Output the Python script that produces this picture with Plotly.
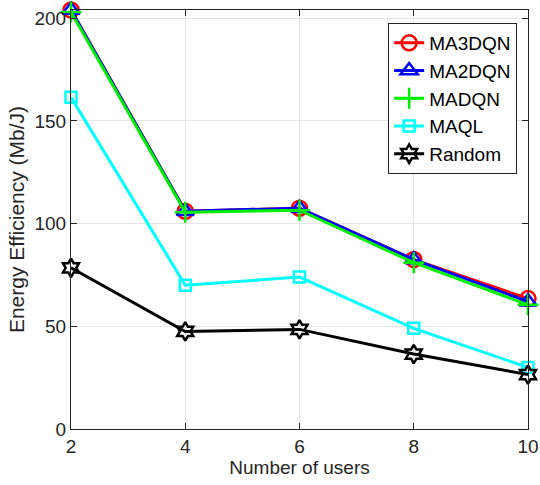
import plotly.graph_objects as go

users = [2, 4, 6, 8, 10]
ma3dqn = [204, 106, 107.5, 82.5, 63.5]
ma2dqn = [204, 106, 107.5, 82.5, 62]
madqn = [203, 105.5, 106.5, 81, 60.5]
maql = [161.5, 70, 74, 49, 30]
random_ = [78.5, 47.5, 48.5, 36.5, 26.5]

series = [
    ("MA3DQN", ma3dqn, "#ff0000", "circle-open", 15),
    ("MA2DQN", ma2dqn, "#0000ff", "triangle-up-open", 15),
    ("MADQN", madqn, "#00ee00", "cross-thin-open", 15),
    ("MAQL", maql, "#00ffff", "square-open", 11),
    ("Random", random_, "#000000", "hexagram-open", 14),
]

FONT = "Liberation Sans, Arial, sans-serif"
fig = go.Figure()
for name, vals, col, sym, sz in series:
    fig.add_trace(go.Scatter(
        x=users, y=vals, name=name, mode="lines+markers",
        line=dict(color=col, width=3),
        marker=dict(symbol=sym, size=sz, color=col, line=dict(color=col, width=2.5)),
        cliponaxis=False,
    ))

axis_common = dict(
    showline=True, linecolor="#262626", linewidth=1, mirror="ticks",
    ticks="inside", ticklen=6, tickcolor="#262626",
    showgrid=True, gridcolor="#e6e6e6", gridwidth=1, zeroline=False,
    tickfont=dict(family=FONT, size=19, color="#262626"),
    automargin=False,
)
fig.update_xaxes(range=[2, 10], tickvals=[2, 4, 6, 8, 10],
                 title=dict(text="Number of users", font=dict(family=FONT, size=19, color="#262626"), standoff=0),
                 **axis_common)
fig.update_yaxes(range=[0, 204], tickvals=[0, 50, 100, 150, 200],
                 title=dict(text="Energy Efficiency (Mb/J)", font=dict(family=FONT, size=21, color="#262626"), standoff=4),
                 **axis_common)
fig.update_layout(
    width=540, height=485,
    margin=dict(l=71, r=12, t=10, b=56),
    plot_bgcolor="white", paper_bgcolor="white",
    showlegend=True,
    legend=dict(x=0.694, y=0.969, xanchor="left", yanchor="top",
                bgcolor="white", bordercolor="#262626", borderwidth=1,
                font=dict(family=FONT, size=19, color="#000000"),
                itemwidth=30, tracegroupgap=0),
)
fig.write_html("out.html")
